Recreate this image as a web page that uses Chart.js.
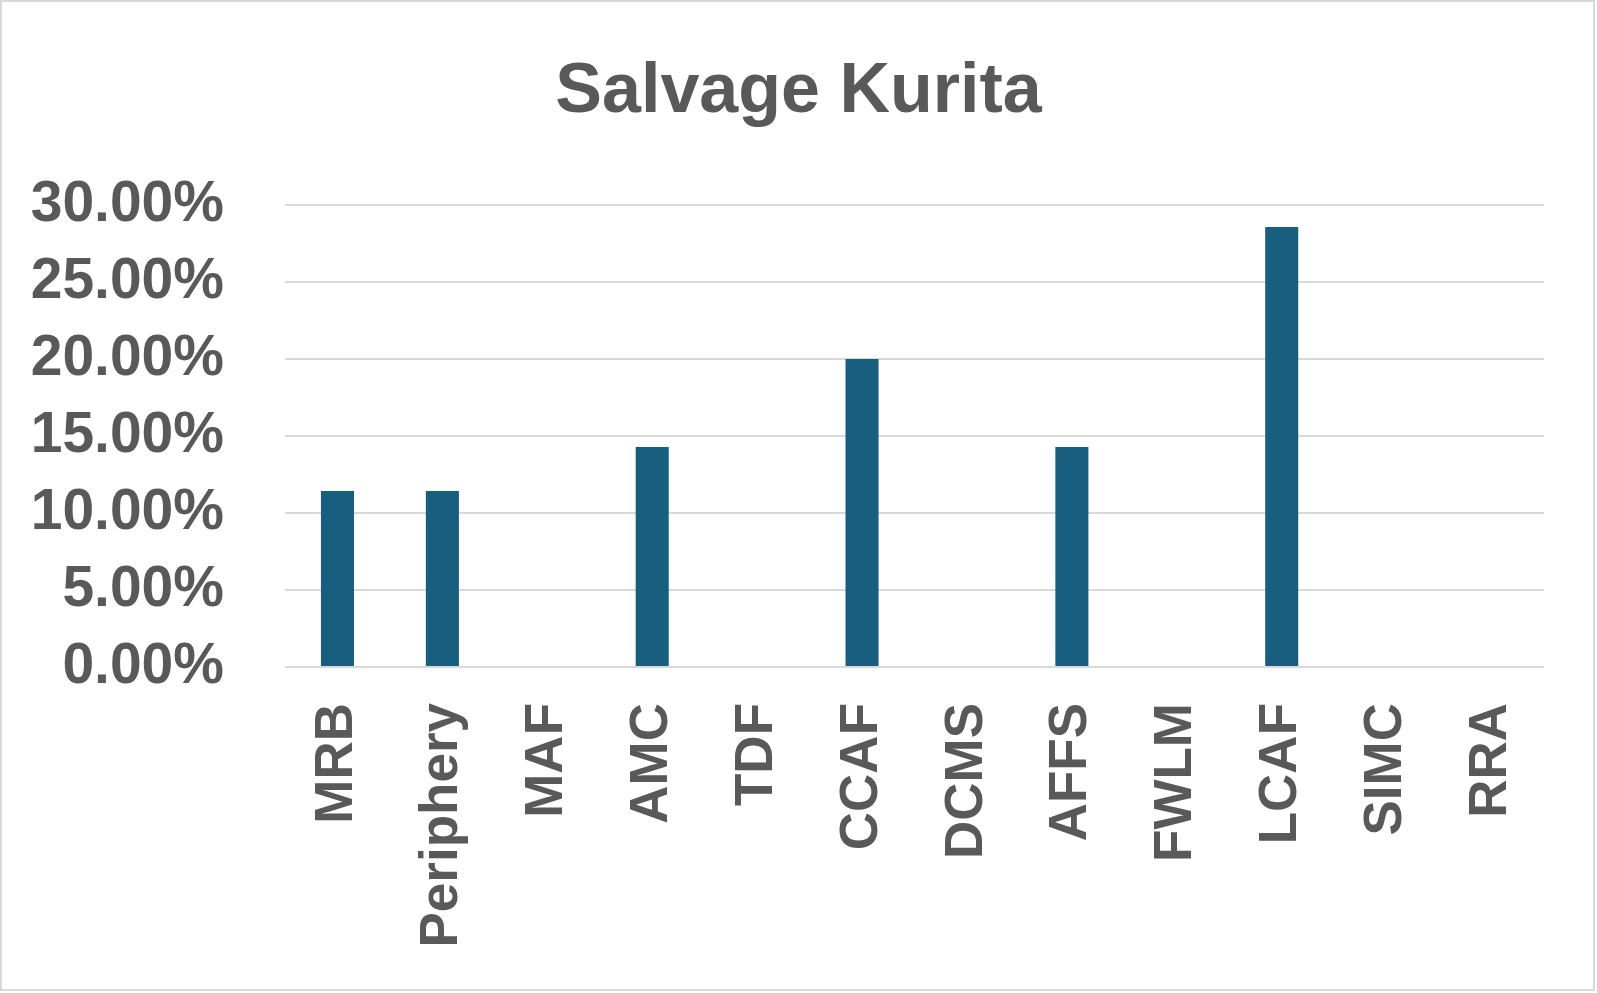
<!DOCTYPE html>
<html>
<head>
<meta charset="utf-8">
<script src="https://cdn.jsdelivr.net/npm/chart.js@4"></script>
<style>
  html, body { margin: 0; padding: 0; background: #fff; }
  #wrap { width: 1597px; height: 993px; position: relative; }
</style>
</head>
<body>
<div id="wrap"><canvas id="grafico"></canvas></div>
<script>
const categorias = ["MRB", "Periphery", "MAF", "AMC", "TDF", "CCAF", "DCMS", "AFFS", "FWLM", "LCAF", "SIMC", "RRA"];
const porcentajes = [0.1143, 0.1143, 0, 0.1429, 0, 0.2, 0, 0.1429, 0, 0.2857, 0, 0];
const ticksY = [0, 0.05, 0.10, 0.15, 0.20, 0.25, 0.30];

const gris = '#595959';
const fuente = "'Liberation Sans', Arial, sans-serif";

// marco gris alrededor del grafico
const marco = {
  id: 'marco',
  beforeDraw(chart) {
    const c = chart.ctx;
    c.save();
    c.fillStyle = '#fff';
    c.fillRect(0, 0, chart.width, chart.height);
    c.strokeStyle = '#d9d9d9';
    c.lineWidth = 2;
    c.strokeRect(1, 1, chart.width - 4, chart.height - 4);
    c.restore();
  }
};

new Chart(document.getElementById('grafico'), {
  type: 'bar',
  data: {
    labels: categorias,
    datasets: [{
      label: 'Salvage Kurita',
      data: porcentajes,
      backgroundColor: '#175e7f',
      borderWidth: 0,
      categoryPercentage: 1,
      barPercentage: 0.315
    }]
  },
  options: {
    responsive: true,
    maintainAspectRatio: false,
    animation: false,
    layout: { padding: 0 },
    plugins: {
      legend: { display: false },
      tooltip: { enabled: false },
      title: {
        display: true,
        text: 'Salvage Kurita',
        color: gris,
        font: { family: fuente, size: 70, weight: 'bold', lineHeight: 1.2 },
        padding: { top: 51, bottom: 70 }
      }
    },
    scales: {
      x: {
        grid: { display: false, drawTicks: false },
        border: { display: false },
        ticks: {
          color: gris,
          font: { family: fuente, size: 53, weight: 'bold' },
          minRotation: 90,
          maxRotation: 90,
          autoSkip: false,
          padding: 36
        },
        afterFit(scale) { scale.height = 326; }
      },
      y: {
        min: 0,
        max: 0.3,
        afterBuildTicks(scale) { scale.ticks = ticksY.map(v => ({ value: v })); },
        grid: { color: '#d9d9d9', lineWidth: 2, drawTicks: false },
        border: { display: false },
        ticks: {
          color: gris,
          font: { family: fuente, size: 57, weight: 'bold' },
          padding: 61,
          callback: v => (v * 100).toFixed(2) + '%'
        },
        afterFit(scale) { scale.width = 285; }
      },
      // margen derecho vacio para que el titulo quede centrado en el lienzo
      margenDer: {
        position: 'right',
        display: true,
        grid: { display: false, drawTicks: false },
        border: { display: false },
        ticks: { display: false },
        afterFit(scale) { scale.width = 53; }
      }
    }
  },
  plugins: [marco]
});
</script>
</body>
</html>
